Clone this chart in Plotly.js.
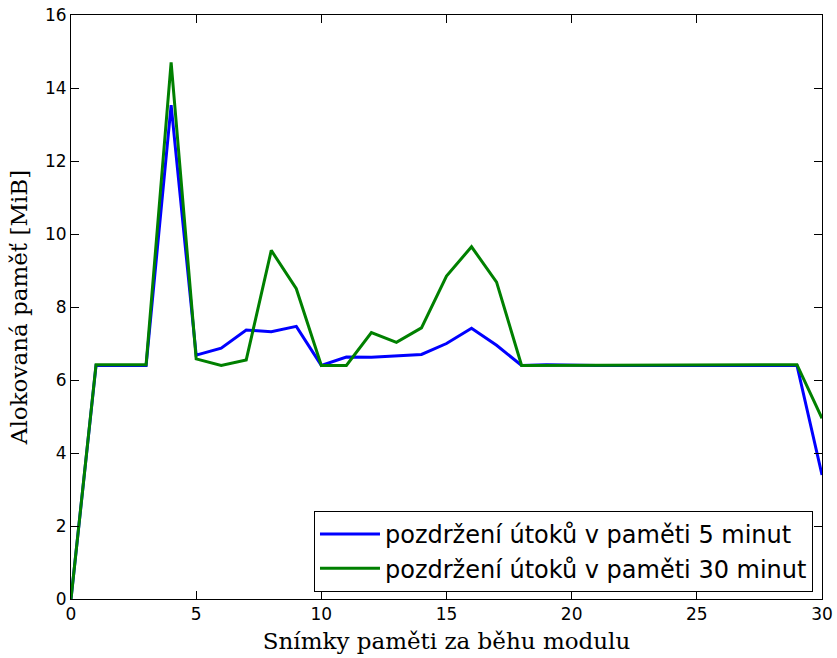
<!DOCTYPE html>
<html><head><meta charset="utf-8">
<script src="https://cdn.plot.ly/plotly-3.0.1.min.js"></script>
<style>body{margin:0;}#c{width:837px;height:658px;}</style>
</head><body><div id="c"></div>
<script>
const xs = [0,1,2,3,4,5,6,7,8,9,10,11,12,13,14,15,16,17,18,19,20,21,22,23,24,25,26,27,28,29,30];
const series5 = [0,6.4,6.4,6.4,13.53,6.68,6.87,7.37,7.32,7.47,6.4,6.63,6.62,6.66,6.7,7.0,7.42,6.95,6.4,6.42,6.4,6.4,6.4,6.4,6.4,6.4,6.4,6.4,6.4,6.4,3.4];
const series30 = [0,6.42,6.42,6.42,14.7,6.58,6.4,6.55,9.55,8.5,6.4,6.4,7.3,7.03,7.43,8.85,9.65,8.68,6.4,6.4,6.4,6.4,6.4,6.41,6.41,6.42,6.42,6.42,6.42,6.42,4.95];
const names = ["pozdržení útoků v paměti 5 minut","pozdržení útoků v paměti 30 minut"];
const xTicks = [0,5,10,15,20,25,30];
const yTicks = [0,2,4,6,8,10,12,14,16];

const traces = [
  {x: xs, y: series5, name: names[0], mode: 'lines', line: {color: '#0000ff', width: 3}},
  {x: xs, y: series30, name: names[1], mode: 'lines', line: {color: '#008000', width: 3}}
];
const axisCommon = {
  showgrid: false, zeroline: false, showline: true, linecolor: '#000', linewidth: 1,
  mirror: 'ticks', ticks: 'inside', ticklen: 8, tickcolor: '#000', tickwidth: 1,
  tickfont: {family: 'DejaVu Sans', size: 17, color: '#000'}
};
const layout = {
  width: 837, height: 658,
  margin: {l: 71, r: 15, t: 15, b: 59},
  paper_bgcolor: '#fff', plot_bgcolor: '#fff',
  showlegend: true,
  xaxis: Object.assign({}, axisCommon, {range: [0, 30], tickvals: xTicks, ticktext: xTicks.map(String),
    title: {text: 'Snímky paměti za běhu modulu', font: {family: 'DejaVu Serif', size: 23, color: '#000'}, standoff: 9}}),
  yaxis: Object.assign({}, axisCommon, {range: [0, 16], tickvals: yTicks, ticktext: yTicks.map(String),
    title: {text: 'Alokovaná paměť [MiB]', font: {family: 'DejaVu Serif', size: 23, color: '#000'}, standoff: 10}}),
  legend: {x: 0.988, y: 0.012, xanchor: 'right', yanchor: 'bottom', bgcolor: '#fff',
    bordercolor: '#000', borderwidth: 1, font: {family: 'DejaVu Sans', size: 24, color: '#000'},
    tracegroupgap: 4, itemwidth: 60}
};
Plotly.newPlot('c', traces, layout, {displayModeBar: false, staticPlot: true});
</script></body></html>
